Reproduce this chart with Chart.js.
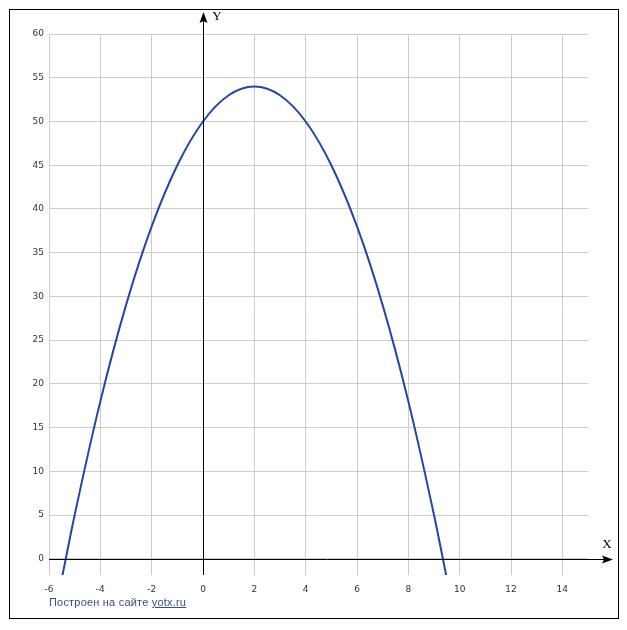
<!DOCTYPE html>
<html>
<head>
<meta charset="utf-8">
<script src="https://cdn.jsdelivr.net/npm/chart.js@4/dist/chart.umd.min.js"></script>
<style>
  body { margin: 0; background: #fff; }
  #wrap { position: relative; width: 627px; height: 630px; }
  #credit {
    position: absolute; left: 49px; top: 596px;
    font: 11px "Liberation Sans", Arial, sans-serif; color: #3a4c8c;
    letter-spacing: 0.2px;
  }
  #credit span { text-decoration: underline; }
</style>
</head>
<body>
<div id="wrap">
  <canvas id="graph" width="627" height="630"></canvas>
  <div id="credit">Построен на сайте <span>yotx.ru</span></div>
</div>
<script>
// points
var xValues = [-5.5, -5, -4, -3, -2, -1, 0, 1, 2, 3, 4, 5, 6, 7, 8, 9, 9.5];
var yValues = [-2.25, 5, 18, 29, 38, 45, 50, 53, 54, 53, 50, 45, 38, 29, 18, 5, -2.25];

var xMin = -6, xMax = 15, xStep = 2;
var yMin = -1.85, yMax = 60, yStep = 5;

var points = xValues.map(function (x, i) { return { x: x, y: yValues[i] }; });

// frame, axes with arrows, X / Y captions
var axesPlugin = {
    id: 'axes',
    afterDraw: function (chart) {
        var ctx = chart.ctx;
        var area = chart.chartArea;
        var x0 = chart.scales.x.getPixelForValue(0);
        var y0 = chart.scales.y.getPixelForValue(0);
        ctx.save();
        ctx.strokeStyle = '#000';
        ctx.fillStyle = '#000';
        ctx.lineWidth = 1;
        ctx.strokeRect(9.5, 9.5, 609, 609);

        // x axis
        ctx.beginPath();
        ctx.moveTo(area.left, Math.round(y0) + 0.5);
        ctx.lineTo(606, Math.round(y0) + 0.5);
        ctx.stroke();
        ctx.beginPath();
        ctx.moveTo(613, Math.round(y0) + 0.5);
        ctx.lineTo(602, Math.round(y0) - 3.5);
        ctx.lineTo(604, Math.round(y0) + 0.5);
        ctx.lineTo(602, Math.round(y0) + 4.5);
        ctx.closePath();
        ctx.fill();

        // y axis
        ctx.beginPath();
        ctx.moveTo(Math.round(x0) + 0.5, area.bottom);
        ctx.lineTo(Math.round(x0) + 0.5, 20);
        ctx.stroke();
        ctx.beginPath();
        ctx.moveTo(Math.round(x0) + 0.5, 12);
        ctx.lineTo(Math.round(x0) - 3.5, 23);
        ctx.lineTo(Math.round(x0) + 0.5, 21);
        ctx.lineTo(Math.round(x0) + 4.5, 23);
        ctx.closePath();
        ctx.fill();

        ctx.font = '13px "Liberation Serif", "Times New Roman", serif';
        ctx.textAlign = 'center';
        ctx.textBaseline = 'middle';
        ctx.fillText('X', 607, 545);
        ctx.fillText('Y', 217, 17);
        ctx.restore();
    }
};

new Chart(document.getElementById('graph'), {
    type: 'scatter',
    data: {
        datasets: [{
            data: points,
            showLine: true,
            borderColor: '#2445a6',
            borderWidth: 2,
            pointRadius: 0,
            cubicInterpolationMode: 'monotone'
        }]
    },
    options: {
        responsive: false,
        animation: false,
        layout: { padding: { top: 34, right: 39, left: 0, bottom: 0 } },
        plugins: {
            legend: { display: false },
            tooltip: { enabled: false }
        },
        scales: {
            x: {
                type: 'linear',
                min: xMin,
                max: xMax,
                border: { display: false },
                grid: { color: '#cccccc', drawTicks: false },
                ticks: {
                    stepSize: xStep,
                    includeBounds: false,
                    padding: 9,
                    color: '#333',
                    font: { family: '"DejaVu Sans", Verdana, sans-serif', size: 9 }
                },
                afterFit: function (scale) { scale.height = 55; }
            },
            y: {
                type: 'linear',
                min: yMin,
                max: yMax,
                border: { display: false },
                grid: { color: '#cccccc', drawTicks: false },
                ticks: {
                    stepSize: yStep,
                    includeBounds: false,
                    padding: 5,
                    color: '#333',
                    font: { family: '"DejaVu Sans", Verdana, sans-serif', size: 9 }
                },
                afterFit: function (scale) { scale.width = 49; }
            }
        }
    },
    plugins: [axesPlugin]
});
</script>
</body>
</html>
